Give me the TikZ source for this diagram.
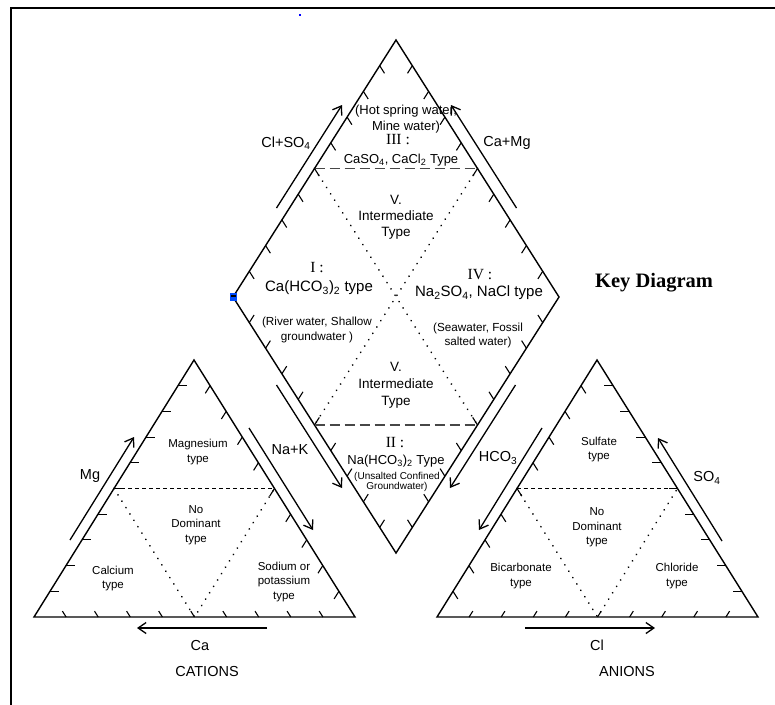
\documentclass[tikz,border=0pt]{standalone}
\usepackage{fontspec}
\setmainfont{Liberation Sans}
\newfontfamily\serifnum{Liberation Serif}
\usetikzlibrary{calc,arrows.meta}
\newcommand{\fsz}[2]{\fontsize{#1}{#2}\selectfont}
\begin{document}
\begin{tikzpicture}[x=1pt,y=-1pt,
  edge/.style={line width=1.4pt, line join=miter},
  tk/.style={line width=1.1pt},
  arr/.style={line width=1.3pt, -{Straight Barb[length=8pt,width=11pt,line width=1.3pt]}},
  ddash/.style={line width=1.6pt, draw=black!72, dash pattern=on 10pt off 5pt},
  tdash/.style={line width=1.4pt, dash pattern=on 4pt off 3pt},
  dots/.style={line width=1.9pt, dash pattern=on 0.01pt off 7.5pt, line cap=round},
  big/.style={font=\fsz{14.5}{16}, inner sep=0pt},
  mid/.style={font=\fsz{15}{17}, inner sep=0pt},
  med/.style={font=\fsz{13}{16}, inner sep=0pt, align=center},
  rom/.style={font=\serifnum\fsz{15.5}{16}, inner sep=0pt},
  sm/.style={font=\fsz{11.7}{14.5}, inner sep=0pt, align=center},
  tri/.style={font=\fsz{11.5}{14.5}, inner sep=0pt, align=center}
]
\useasboundingbox (0,0) rectangle (775,704);
% frame
\coordinate (f1) at (11,710);
\coordinate (f2) at (11,8);
\coordinate (f3) at (780,8);
\draw[line width=2.2pt] (f1) -- (f2) -- (f3);
\fill[blue] (299,14) rectangle (301,16);

% ---------------- diamond
\coordinate (DT) at (396,40);
\coordinate (DL) at (233,297);
\coordinate (DR) at (559,297);
\coordinate (DB) at (396,553);
\draw[edge] (DT) -- (DR) -- (DB) -- (DL) -- cycle;
\foreach \i in {1,...,9}{
  \draw[tk] ($(DL)!\i/10!(DT)$) -- ++(4.8,7.6);
  \draw[tk] ($(DR)!\i/10!(DT)$) -- ++(-4.8,7.6);
  \draw[tk] ($(DL)!\i/10!(DB)$) -- ++(4.8,-7.6);
  \draw[tk] ($(DR)!\i/10!(DB)$) -- ++(-4.8,-7.6);
}
\coordinate (UL) at ($(DL)!0.5!(DT)$);
\coordinate (UR) at ($(DR)!0.5!(DT)$);
\coordinate (LL) at ($(DL)!0.5!(DB)$);
\coordinate (LR) at ($(DR)!0.5!(DB)$);
\draw[ddash] (UL) -- (UR);
\draw[ddash] (LL) -- (LR);
\draw[dots] (UL) -- (LR);
\draw[dots] (UR) -- (LL);
\fill[blue!70!cyan] (230,293) rectangle (237,301);
\fill[black] (231,295) rectangle (236,296.5);

% diamond arrows
\coordinate (a1s) at (276.5,208); \coordinate (a1e) at (342,105);
\coordinate (a2s) at (516.5,208); \coordinate (a2e) at (451,105);
\coordinate (a3s) at (276.5,385); \coordinate (a3e) at (342,488);
\coordinate (a4s) at (515.5,385); \coordinate (a4e) at (450,488);
\draw[arr] (a1s) -- (a1e);
\draw[arr] (a2s) -- (a2e);
\draw[arr] (a3s) -- (a3e);
\draw[arr] (a4s) -- (a4e);
\node[big] (lclso) at (286,143) {Cl+SO\textsubscript{4}};
\node[big] (lcamg) at (507,143) {Ca+Mg};
\node[big] (lnak) at (290,450) {Na+K};
\node[big] (lhco) at (498,458) {HCO\textsubscript{3}};

% diamond texts
\node[med] (hot) at (406,119.5) {(Hot spring water,\\Mine water)};
\node[rom] (r3) at (398,140) {III :};
\node[med] (t3) at (401,160) {CaSO\textsubscript{4}, CaCl\textsubscript{2} Type};
\node[font=\fsz{13.5}{16}, inner sep=0pt, align=center] (v1) at (396,217) {V.\\Intermediate\\Type};
\node[rom] (r1) at (317,268) {I :};
\node[mid] (t1) at (319,288) {Ca(HCO\textsubscript{3})\textsubscript{2} type};
\node[sm] (riv) at (317,330) {(River water, Shallow\\groundwater )};
\node[rom] (r4) at (480,275) {IV :};
\node[mid] (t4) at (479,293) {Na\textsubscript{2}SO\textsubscript{4}, NaCl type};
\node[sm] (sea) at (478,335.5) {(Seawater, Fossil\\salted water)};
\node[font=\fsz{13.5}{17}, inner sep=0pt, align=center] (v2) at (396,385) {V.\\Intermediate\\Type};
\node[rom] (r2) at (395,443) {II :};
\node[font=\fsz{13}{16}, inner sep=0pt] (t2) at (396,461) {Na(HCO\textsubscript{3})\textsubscript{2} Type};
\node[font=\fsz{10}{10.5}, inner sep=0pt, align=center] (uns) at (397,482) {(Unsalted Confined\\Groundwater)};

\node[font=\serifnum\bfseries\fsz{20.5}{22}, inner sep=0pt] (key) at (654,283) {Key Diagram};

% ---------------- cations triangle
\coordinate (CL) at (34,617);
\coordinate (CT) at (194,360);
\coordinate (CR) at (355,617);
\draw[edge] (CL) -- (CT) -- (CR) -- cycle;
\foreach \i in {1,...,9}{
  \draw[tk] ($(CL)!\i/10!(CT)$) -- ++(9,0);
  \draw[tk] ($(CL)!\i/10!(CR)$) -- ++(-3.7,-5.9);
  \draw[tk] ($(CT)!\i/10!(CR)$) -- ++(-4.8,7.6);
}
\coordinate (CML) at ($(CL)!0.5!(CT)$);
\coordinate (CMR) at ($(CR)!0.5!(CT)$);
\coordinate (CMB) at ($(CL)!0.5!(CR)$);
\draw[tdash] (CML) -- (CMR);
\draw[dots] (CML) -- (CMB) -- (CMR);
\coordinate (b1s) at (70,540); \coordinate (b1e) at (134,437);
\coordinate (b2s) at (249,428); \coordinate (b2e) at (313,530);
\coordinate (b3s) at (267,628); \coordinate (b3e) at (137,628);
\draw[arr] (b1s) -- (b1e);
\draw[arr] (b2s) -- (b2e);
\draw[arr] (b3s) -- (b3e);
\node[big] (lmg) at (90,476) {Mg};
\node[big] (lca) at (200,645) {Ca};
\node[big] (lcat) at (207,671) {CATIONS};
\node[tri] (mgt) at (198,452) {Magnesium\\type};
\node[tri] (cnd) at (196,525) {No\\Dominant\\type};
\node[tri] (cat) at (113,578.5) {Calcium\\type};
\node[tri] (nat) at (284,582) {Sodium or\\potassium\\type};

% ---------------- anions triangle
\coordinate (AL) at (437,617);
\coordinate (AT) at (597,360);
\coordinate (AR) at (758,617);
\draw[edge] (AL) -- (AT) -- (AR) -- cycle;
\foreach \i in {1,...,9}{
  \draw[tk] ($(AR)!\i/10!(AT)$) -- ++(-9,0);
  \draw[tk] ($(AL)!\i/10!(AR)$) -- ++(3.7,-5.9);
  \draw[tk] ($(AT)!\i/10!(AL)$) -- ++(4.8,7.6);
}
\coordinate (AML) at ($(AL)!0.5!(AT)$);
\coordinate (AMR) at ($(AR)!0.5!(AT)$);
\coordinate (AMB) at ($(AL)!0.5!(AR)$);
\draw[tdash] (AML) -- (AMR);
\draw[dots] (AML) -- (AMB) -- (AMR);
\coordinate (c1s) at (542,428); \coordinate (c1e) at (479,530);
\coordinate (c2s) at (722,541); \coordinate (c2e) at (658,438);
\coordinate (c3s) at (525,628); \coordinate (c3e) at (655,628);
\draw[arr] (c1s) -- (c1e);
\draw[arr] (c2s) -- (c2e);
\draw[arr] (c3s) -- (c3e);
\node[big] (lso) at (707,478) {SO\textsubscript{4}};
\node[big] (lcl) at (597,645) {Cl};
\node[big] (lan) at (627,671) {ANIONS};
\node[tri] (sut) at (599,449.5) {Sulfate\\type};
\node[tri] (and) at (597,527.5) {No\\Dominant\\type};
\node[tri] (bit) at (521,576) {Bicarbonate\\type};
\node[tri] (clt) at (677,576) {Chloride\\type};
\end{tikzpicture}
\end{document}
